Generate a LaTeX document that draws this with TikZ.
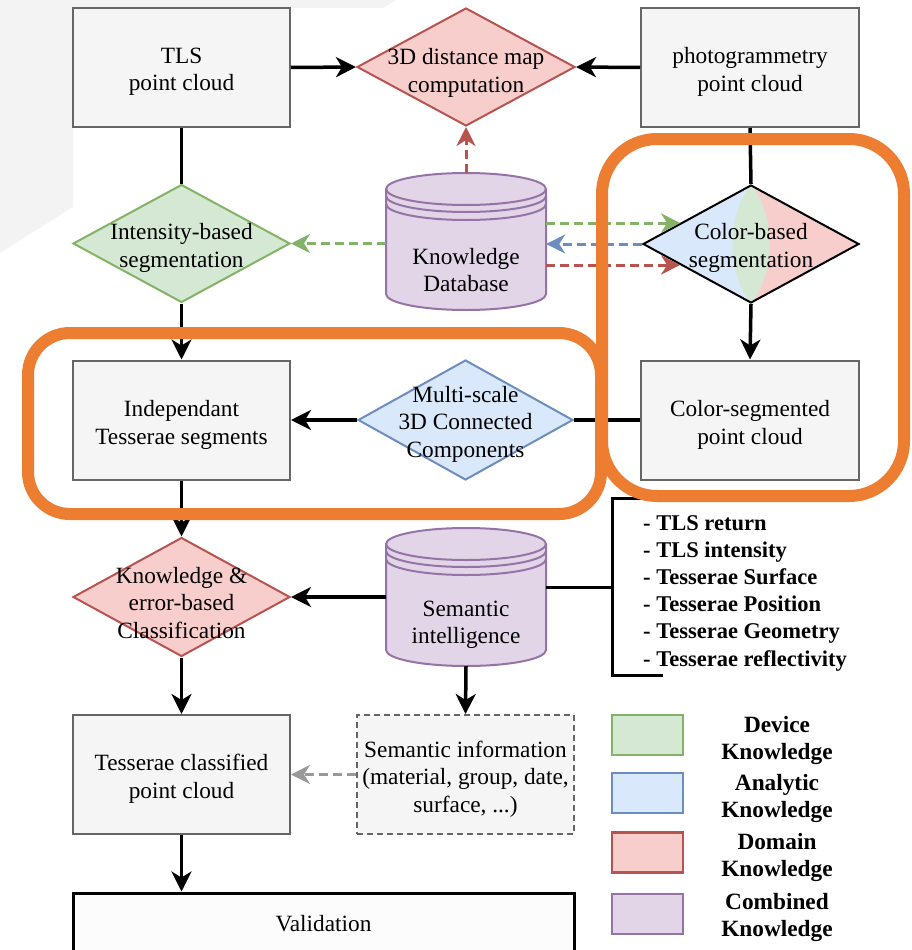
\documentclass[tikz,border=0pt]{standalone}
\usepackage{fontspec}
\setmainfont{Liberation Serif}
\usetikzlibrary{shapes.geometric,arrows.meta,calc}
\definecolor{boxfill}{HTML}{F5F5F5}
\definecolor{boxline}{HTML}{666666}
\definecolor{redf}{HTML}{F8CECC}
\definecolor{redl}{HTML}{B85450}
\definecolor{greenf}{HTML}{D5E8D4}
\definecolor{greenl}{HTML}{82B366}
\definecolor{bluef}{HTML}{DAE8FC}
\definecolor{bluel}{HTML}{6C8EBF}
\definecolor{purf}{HTML}{E1D5E7}
\definecolor{purl}{HTML}{9673A6}
\definecolor{orng}{HTML}{ED7D31}
\definecolor{bgart}{HTML}{F3F3F3}
\definecolor{grayarr}{HTML}{999999}
\definecolor{valfill}{HTML}{FCFCFC}
\begin{document}
\begin{tikzpicture}[x=1pt,y=-1pt,
  every node/.style={font=\fontsize{23.3}{27.5}\selectfont, align=center, inner sep=0pt},
  pbox/.style={rectangle, draw=boxline, fill=boxfill, line width=2pt, minimum width=217pt, minimum height=119pt},
  diam/.style={diamond, line width=2pt, minimum width=217pt, minimum height=118pt},
  reddiam/.style={diam, draw=redl, fill=redf},
  greendiam/.style={diam, draw=greenl, fill=greenf},
  bluediam/.style={diam, draw=bluel, fill=bluef},
  cylnode/.style={rectangle, minimum width=160pt, minimum height=137pt},
  cylpath/.style={draw=purl, fill=purf, line width=2pt},
  conn/.style={line width=3.5pt},
  arr/.style={conn, -{Stealth[length=20pt,width=20pt,inset=6pt]}},
  darr/.style={line width=3pt, dash pattern=on 9pt off 5pt, -{Stealth[length=19pt,width=19pt,inset=6pt]}},
  legbox/.style={rectangle, line width=2.5pt, minimum width=71pt, minimum height=40pt},
  legtxt/.style={font=\fontsize{23.3}{27}\selectfont\bfseries},
  listtxt/.style={font=\fontsize{22.5}{27.2}\selectfont\bfseries, align=left},
  orangebox/.style={draw=orng, line width=12pt},
  brk/.style={line width=3pt}
]
\useasboundingbox (0,0) rectangle (912,950);
\fill[white] (0,0) rectangle (912,950);
% faint background artefact
\fill[bgart] (0,0) -- (396,0) -- (383,8) -- (73,8) -- (73,207) -- (0,253) -- cycle;

% ---------- row 1 ----------
\node[pbox] (tls) at (181.5,67.5) {};
\node (tlsT) at (181.5,72) {TLS\\point cloud};
\node[reddiam, minimum width=218pt] (dist) at (466,67) {};
\node (distT) at (466,73) {3D distance map\\computation};
\node[pbox, minimum width=218pt] (photo) at (750,67.5) {};
\node (photoT) at (750,72) {photogrammetry\\point cloud};

% ---------- row 2 ----------
\node[greendiam] (int) at (181.5,243.5) {};
\node (intT) at (181.5,248) {Intensity-based\\segmentation};

% Knowledge database cylinder
\path[cylpath] (386,189) -- (386,294) arc[start angle=180,end angle=360,x radius=80pt,y radius=16pt]
  -- (546,189) arc[start angle=0,end angle=180,x radius=80pt,y radius=16pt] -- cycle;
\draw[purl, line width=2pt] (386,189) arc[start angle=180,end angle=360,x radius=80pt,y radius=16pt];
\draw[purl, line width=2pt] (386,196) arc[start angle=180,end angle=360,x radius=80pt,y radius=16pt];
\draw[purl, line width=2pt] (386,204) arc[start angle=180,end angle=360,x radius=80pt,y radius=16pt];
\node[cylnode] (kdb) at (466,241.5) {};
\node (kdbT) at (466,270) {Knowledge\\Database};

% Color-based segmentation (tri-colour diamond)
\begin{scope}
  \clip (643,244) -- (751,185) -- (859,244) -- (751,303) -- cycle;
  \fill[bluef] (640,180) rectangle (751,306);
  \fill[redf] (751,180) rectangle (862,306);
  \fill[greenf] (751,185) .. controls (726,215) and (726,273) .. (751,303)
     .. controls (776,273) and (776,215) .. (751,185);
\end{scope}
\node[diam, draw=black, minimum width=216pt] (cb) at (751,244) {};
\node (cbT) at (751,248) {Color-based\\segmentation};

% ---------- row 3 ----------
\node[pbox] (ind) at (181.5,420) {};
\node (indT) at (181.5,425) {Independant\\Tesserae segments};
\node[bluediam, minimum width=215pt, minimum height=120pt] (multi) at (465.5,420) {};
\node (multiT) at (465.5,424) {Multi-scale\\3D Connected\\Components};
\node[pbox, minimum width=218pt] (cseg) at (750,420) {};
\node (csegT) at (750,425) {Color-segmented\\point cloud};

% ---------- row 4 ----------
\node[reddiam, minimum height=119pt] (cls) at (181.5,597) {};
\node (clsT) at (181.5,603) {Knowledge \&\\error-based\\Classification};

\path[cylpath] (386,544) -- (386,650) arc[start angle=180,end angle=360,x radius=80pt,y radius=16pt]
  -- (546,544) arc[start angle=0,end angle=180,x radius=80pt,y radius=16pt] -- cycle;
\draw[purl, line width=2pt] (386,544) arc[start angle=180,end angle=360,x radius=80pt,y radius=16pt];
\draw[purl, line width=2pt] (386,551) arc[start angle=180,end angle=360,x radius=80pt,y radius=16pt];
\draw[purl, line width=2pt] (386,559) arc[start angle=180,end angle=360,x radius=80pt,y radius=16pt];
\node[cylnode, minimum height=138pt] (sem) at (466,597) {};
\node (semT) at (466,625) {Semantic\\intelligence};

% list with bracket
\node[listtxt, anchor=west] (lst) at (643,593) {- TLS return\\- TLS intensity\\- Tesserae Surface\\- Tesserae Position\\- Tesserae Geometry\\- Tesserae reflectivity};
\coordinate (brkT) at (663,498);
\coordinate (brkTL) at (612,498);
\coordinate (brkBL) at (612,675);
\coordinate (brkB) at (663,675);
\coordinate (brkM) at (612,587);
\draw[brk] (brkT) -- (brkTL) -- (brkBL) -- (brkB);

% ---------- row 5 ----------
\node[pbox] (tcp) at (181.5,774.5) {};
\node (tcpT) at (181.5,779) {Tesserae classified\\point cloud};
\node[pbox, draw=boxline, dash pattern=on 6pt off 4pt, minimum width=217pt] (sinfo) at (465.5,774.5) {};
\node (sinfoT) at (465.5,779) {Semantic information\\(material, group, date,\\surface, ...)};

% ---------- row 6 ----------
\node[rectangle, draw=black, fill=valfill, line width=3pt, minimum width=501pt, minimum height=66pt] (val) at (323.5,926) {};
\node (valT) at (323.5,924) {Validation};

% ---------- legend ----------
\node[legbox, draw=greenl, fill=greenf] (lg1) at (647.5,735) {};
\node[legtxt] (lt1) at (777,740) {Device\\Knowledge};
\node[legbox, draw=bluel, fill=bluef] (lg2) at (647.5,793) {};
\node[legtxt] (lt2) at (777,798) {Analytic\\Knowledge};
\node[legbox, draw=redl, fill=redf] (lg3) at (647.5,852.5) {};
\node[legtxt] (lt3) at (777,857) {Domain\\Knowledge};
\node[legbox, draw=purl, fill=purf] (lg4) at (647.5,914) {};
\node[legtxt] (lt4) at (777,917) {Combined\\Knowledge};

% ---------- connectors ----------
\draw[arr] (tls.east) -- (dist.west);
\draw[arr] (photo.west) -- (dist.east);
\draw[conn] (tls.south) -- (int.north);
\draw[conn] (photo.south) -- (cb.north);
\draw[arr] (int.south) -- (ind.north);
\draw[darr, redl] (kdb.north) -- (dist.south);
\draw[darr, greenl] (kdb.west |- int.east) -- (int.east);
\coordinate (cbG) at ($(cb.west)!0.35!(cb.north)$);
\coordinate (cbR) at ($(cb.west)!0.35!(cb.south)$);
\draw[darr, greenl] (kdb.east |- cbG) -- (cbG);
\draw[darr, bluel] (cb.west) -- (kdb.east |- cb.west);
\draw[darr, redl] (kdb.east |- cbR) -- (cbR);
\draw[arr] (cb.south) -- (cseg.north);
\draw[conn] (cseg.west) -- (multi.east);
\draw[arr] (multi.west) -- (ind.east);
\draw[arr] (ind.south) -- (cls.north);
\draw[arr] (sem.west |- cls.east) -- (cls.east);
\draw[arr] (cls.south) -- (tcp.north);
\draw[arr] (sem.south) -- (sinfo.north);
\draw[darr, grayarr] (sinfo.west) -- (tcp.east);
\draw[arr] (tcp.south) -- (tcp.south |- val.north);
\draw[brk] (sem.east |- brkM) -- (brkM);

% ---------- orange highlight frames ----------
\draw[orangebox, rounded corners=42pt] (28,333) rectangle (601,514);
\draw[orangebox, rounded corners=55pt] (602,139) rectangle (904,496);
\end{tikzpicture}
\end{document}
